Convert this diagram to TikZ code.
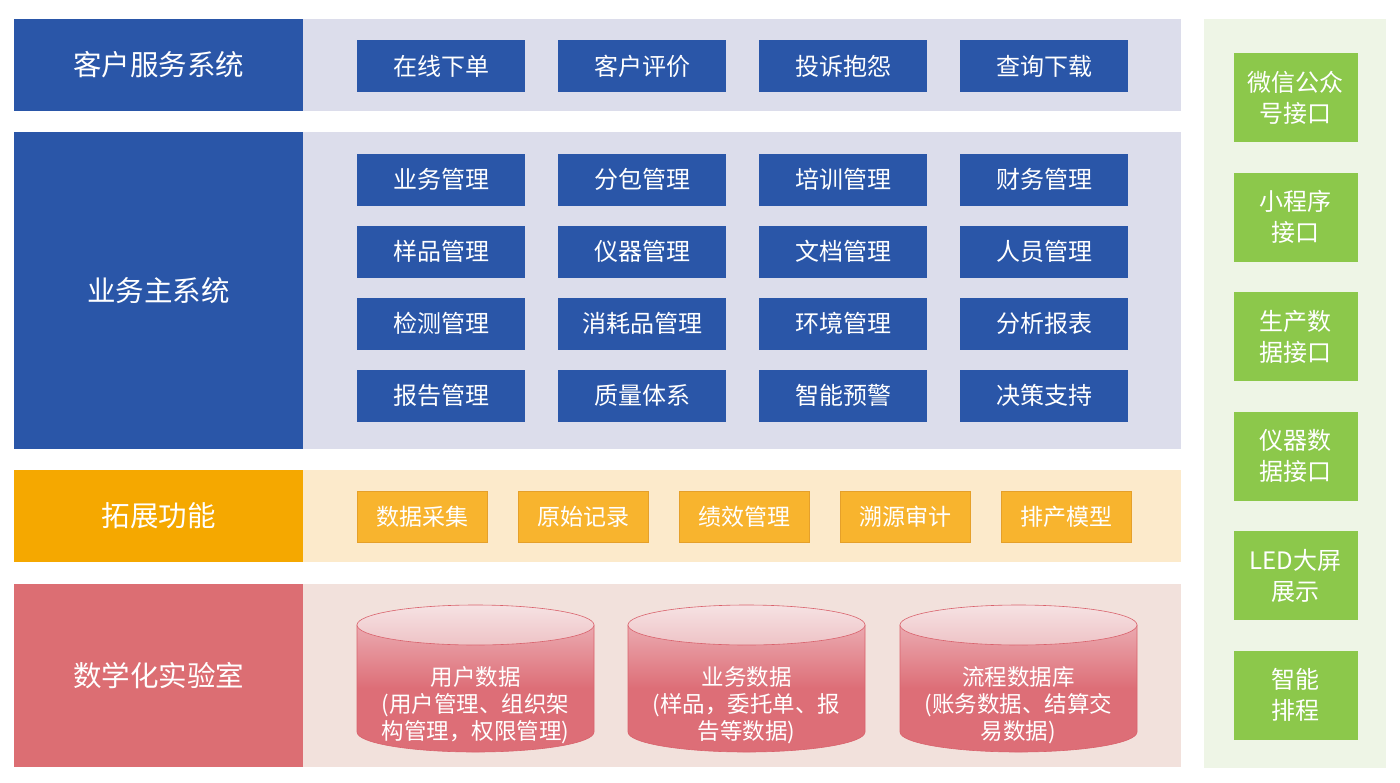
\documentclass[tikz,border=0pt]{standalone}
\usepackage{fontspec}
\setmainfont{Noto Sans CJK SC}
\usetikzlibrary{positioning}

\definecolor{mainblue}{HTML}{2A56A8}
\definecolor{bluebg}{HTML}{DCDDEB}
\definecolor{extorange}{HTML}{F5A800}
\definecolor{extyellow}{HTML}{F8B42E}
\definecolor{extborder}{HTML}{E5A02A}
\definecolor{yellowbg}{HTML}{FCEACB}
\definecolor{labred}{HTML}{DC6E73}
\definecolor{pinkbg}{HTML}{F2E1DC}
\definecolor{cylred}{HTML}{DD6E77}
\definecolor{cyllight}{HTML}{EBAAB0}
\definecolor{cyltop}{HTML}{F6E2E3}
\definecolor{cyltopb}{HTML}{EEC3C6}
\definecolor{cylline}{HTML}{D9626C}
\definecolor{greenbg}{HTML}{EEF5E6}
\definecolor{portgreen}{HTML}{8CC84B}

\pgfdeclareverticalshading{cylbody}{100bp}{color(0bp)=(cylred); color(25bp)=(cylred);
  color(50bp)=(cylred); color(75bp)=(cyllight); color(100bp)=(cyllight)}

\tikzset{
  layer/.style={fill=#1, text=white, minimum width=289pt, inner sep=0pt,
    font=\fontsize{28.5}{34}\selectfont},
  item/.style={fill=mainblue, text=white, minimum width=168pt, minimum height=52pt,
    inner sep=0pt, font=\fontsize{24}{29}\selectfont},
  extbox/.style={fill=extyellow, draw=extborder, line width=0.8pt, text=white,
    minimum width=130pt, minimum height=51pt, inner sep=0pt,
    font=\fontsize{23}{27}\selectfont},
  port/.style={fill=portgreen, text=white, minimum width=124pt, minimum height=89pt,
    inner sep=0pt, align=center, font=\fontsize{24}{31}\selectfont},
  dbtext/.style={text=white, align=center, font=\fontsize{22.5}{27}\selectfont}
}

\begin{document}
\begin{tikzpicture}[x=1pt,y=-1pt]
    \useasboundingbox[fill=white] (0,0) rectangle (1400,782);

    % background bands
    \fill[bluebg] (303,19) rectangle (1181,111);
    \fill[bluebg] (303,132) rectangle (1181,449);
    \fill[yellowbg] (303,470) rectangle (1181,562);
    \fill[pinkbg] (303,584) rectangle (1181,767);
    \fill[greenbg] (1204,19) rectangle (1386,768);

    % layer labels
    \node[layer=mainblue, minimum height=92pt] (client) at (158.5,65) {客户服务系统};
    \node[layer=mainblue, minimum height=317pt] (core) at (158.5,290.5) {业务主系统};
    \node[layer=extorange, minimum height=92pt] (ext) at (158.5,516) {拓展功能};
    \node[layer=labred, minimum height=183pt] (lab) at (158.5,675.5) {数学化实验室};

    % client service items
    \foreach \name [count=\i from 0] in {在线下单,客户评价,投诉抱怨,查询下载}
        \node[item] (cs\i) at ({441+201*\i},66) {\name};

    % core system items
    \foreach \name [count=\k from 0] in {业务管理,分包管理,培训管理,财务管理,
        样品管理,仪器管理,文档管理,人员管理,
        检测管理,消耗品管理,环境管理,分析报表,
        报告管理,质量体系,智能预警,决策支持}{
        \pgfmathtruncatemacro\r{div(\k,4)}
        \pgfmathtruncatemacro\c{mod(\k,4)}
        \node[item] (bm\k) at ({441+201*\c},{179.5+72*\r}) {\name};
    }

    % extension items
    \foreach \name [count=\i from 0] in {数据采集,原始记录,绩效管理,溯源审计,排产模型}
        \node[extbox] (ex\i) at ({422+161*\i},516.5) {\name};

    % databases
    \foreach \cx/\tag/\txt in {475.5/user/{用户数据\\(用户管理、组织架\\构管理，权限管理)},
        746.5/biz/{业务数据\\(样品，委托单、报\\告等数据)},
        1018.5/flow/{流程数据库\\(账务数据、结算交\\易数据)}}{
        \shade[shading=cylbody, draw=cylline, line width=0.6pt]
            ({\cx-118.5},625) -- ({\cx-118.5},732) arc (180:360:118.5pt and 20pt)
            -- ({\cx+118.5},625) -- cycle;
        \shade[top color=cyltop, bottom color=cyltopb, draw=cylline, line width=0.6pt]
            (\cx,625) ellipse (118.5pt and 20pt);
        \node[dbtext] (db\tag) at (\cx,705) {\txt};
    }

    % interface ports
    \foreach \txt [count=\i from 0] in {{微信公众\\号接口},{小程序\\接口},{生产数\\据接口},
        {仪器数\\据接口},{LED大屏\\展示},{智能\\排程}}
        \node[port] (port\i) at (1295.5,{97.5+119.5*\i}) {\txt};
\end{tikzpicture}
\end{document}
